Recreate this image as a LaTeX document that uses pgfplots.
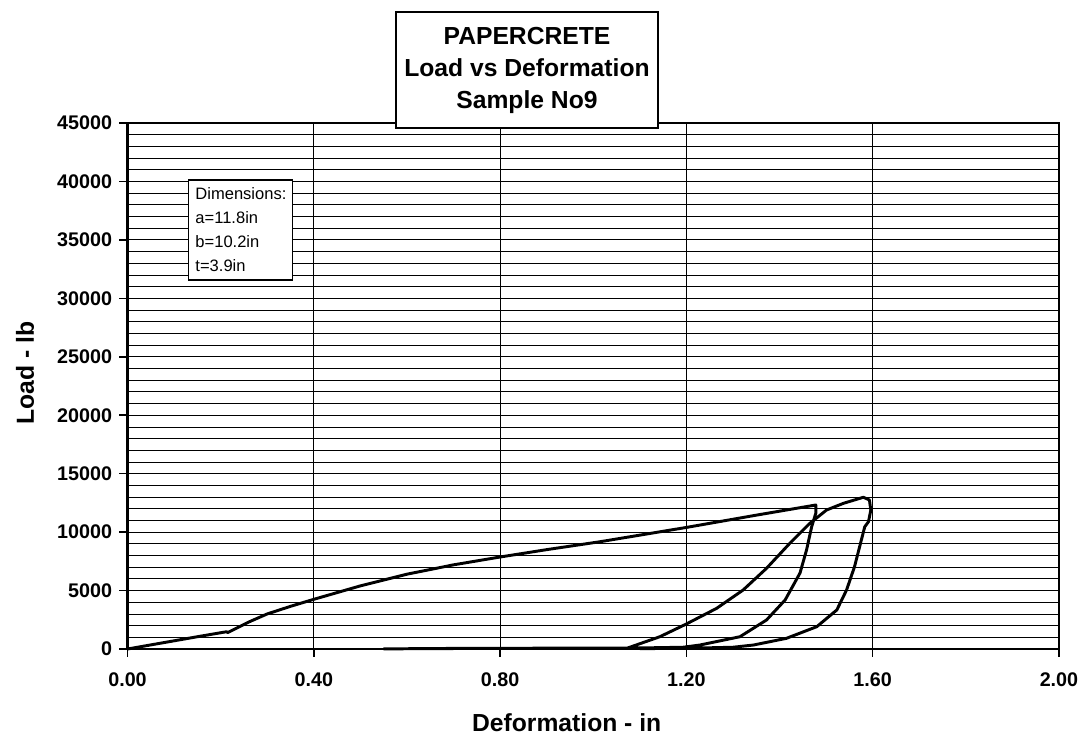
\documentclass[border=0pt]{standalone}
\usepackage{fontspec}
\setmainfont{Liberation Sans}
\usepackage{pgfplots}
\pgfplotsset{compat=1.18}
\begin{document}
\begin{tikzpicture}
\path[use as bounding box] (-95.625pt,-75.75pt) rectangle (718.875pt,486.75pt);
\begin{axis}[
    scale only axis,
    width=698.6pt, height=394.5pt,
    xmin=0, xmax=2, ymin=0, ymax=45000,
    xtick={0,0.4,0.8,1.2,1.6,2},
    ytick={0,5000,...,45000},
    minor ytick={0,1000,...,45000},
    scaled y ticks=false,
    grid=both,
    major grid style={black, line width=0.6pt},
    minor grid style={black, line width=0.6pt},
    tick align=outside, xtick pos=bottom, ytick pos=left,
    major tick length=6pt, minor tick length=0pt,
    tick style={black, line width=1.2pt},
    axis line style={line width=1pt},
    x tick label style={yshift=-8pt, /pgf/number format/fixed, /pgf/number format/fixed zerofill, /pgf/number format/precision=2},
    y tick label style={xshift=-2pt, /pgf/number format/fixed, /pgf/number format/set thousands separator={}},
    /pgf/number format/assume math mode=true,
    ticklabel style={font=\bfseries\fontsize{14.8}{17}\selectfont},
    label style={font=\bfseries\fontsize{18.5}{22}\selectfont},
    xlabel={Deformation - in},
    ylabel={Load - lb},
    xlabel style={at={(axis description cs:0.4715,-0.1407)}, anchor=center},
    ylabel style={at={(axis description cs:-0.110,0.5247)}, anchor=center},
    clip=false,
]
\addplot[black, line width=2.2pt, line join=round] coordinates {
 (0,0) (0.05,350) (0.10,700) (0.15,1050) (0.213,1480) (0.215,1400) (0.26,2300) (0.30,3000)
 (0.35,3650) (0.40,4250) (0.50,5400) (0.60,6400) (0.70,7200) (0.80,7870) (0.90,8500) (1.015,9180)
 (1.20,10400) (1.35,11450) (1.478,12320) (1.478,11630) (1.469,10460) (1.458,8470)
 (1.444,6500) (1.412,4190) (1.372,2480) (1.315,1050) (1.229,340) (1.193,150) (1.10,90)
 (0.90,70) (0.70,50) (0.55,10) (0.70,40) (0.90,60) (1.072,60) (1.143,1050) (1.20,2140)
 (1.265,3480) (1.322,5050) (1.372,6900) (1.422,9040) (1.465,10750) (1.501,11890)
 (1.537,12460) (1.580,12980) (1.593,12750) (1.596,11890) (1.591,10890) (1.583,10460)
 (1.572,8750) (1.561,7040) (1.544,5050) (1.523,3340) (1.480,1910) (1.415,915)
 (1.344,340) (1.30,150) (1.20,60) (1.10,30)
};
\draw[line width=2.2pt] (rel axis cs:0,1) -- (rel axis cs:0,0) -- (rel axis cs:1,0);
\node[draw, line width=1pt, fill=white, minimum width=196.5pt, minimum height=87pt,
      align=center, font=\bfseries\fontsize{18.5}{24}\selectfont]
      at (rel axis cs:0.4289,1.1008) {PAPERCRETE\\Load vs Deformation\\Sample No9};
\node[draw, line width=0.8pt, fill=white, minimum width=78pt, minimum height=75pt,
      align=left, font=\fontsize{12.4}{18}\selectfont]
      at (rel axis cs:0.1218,0.7966) {Dimensions:\\a=11.8in\\b=10.2in\\t=3.9in};
\end{axis}
\end{tikzpicture}
\end{document}
